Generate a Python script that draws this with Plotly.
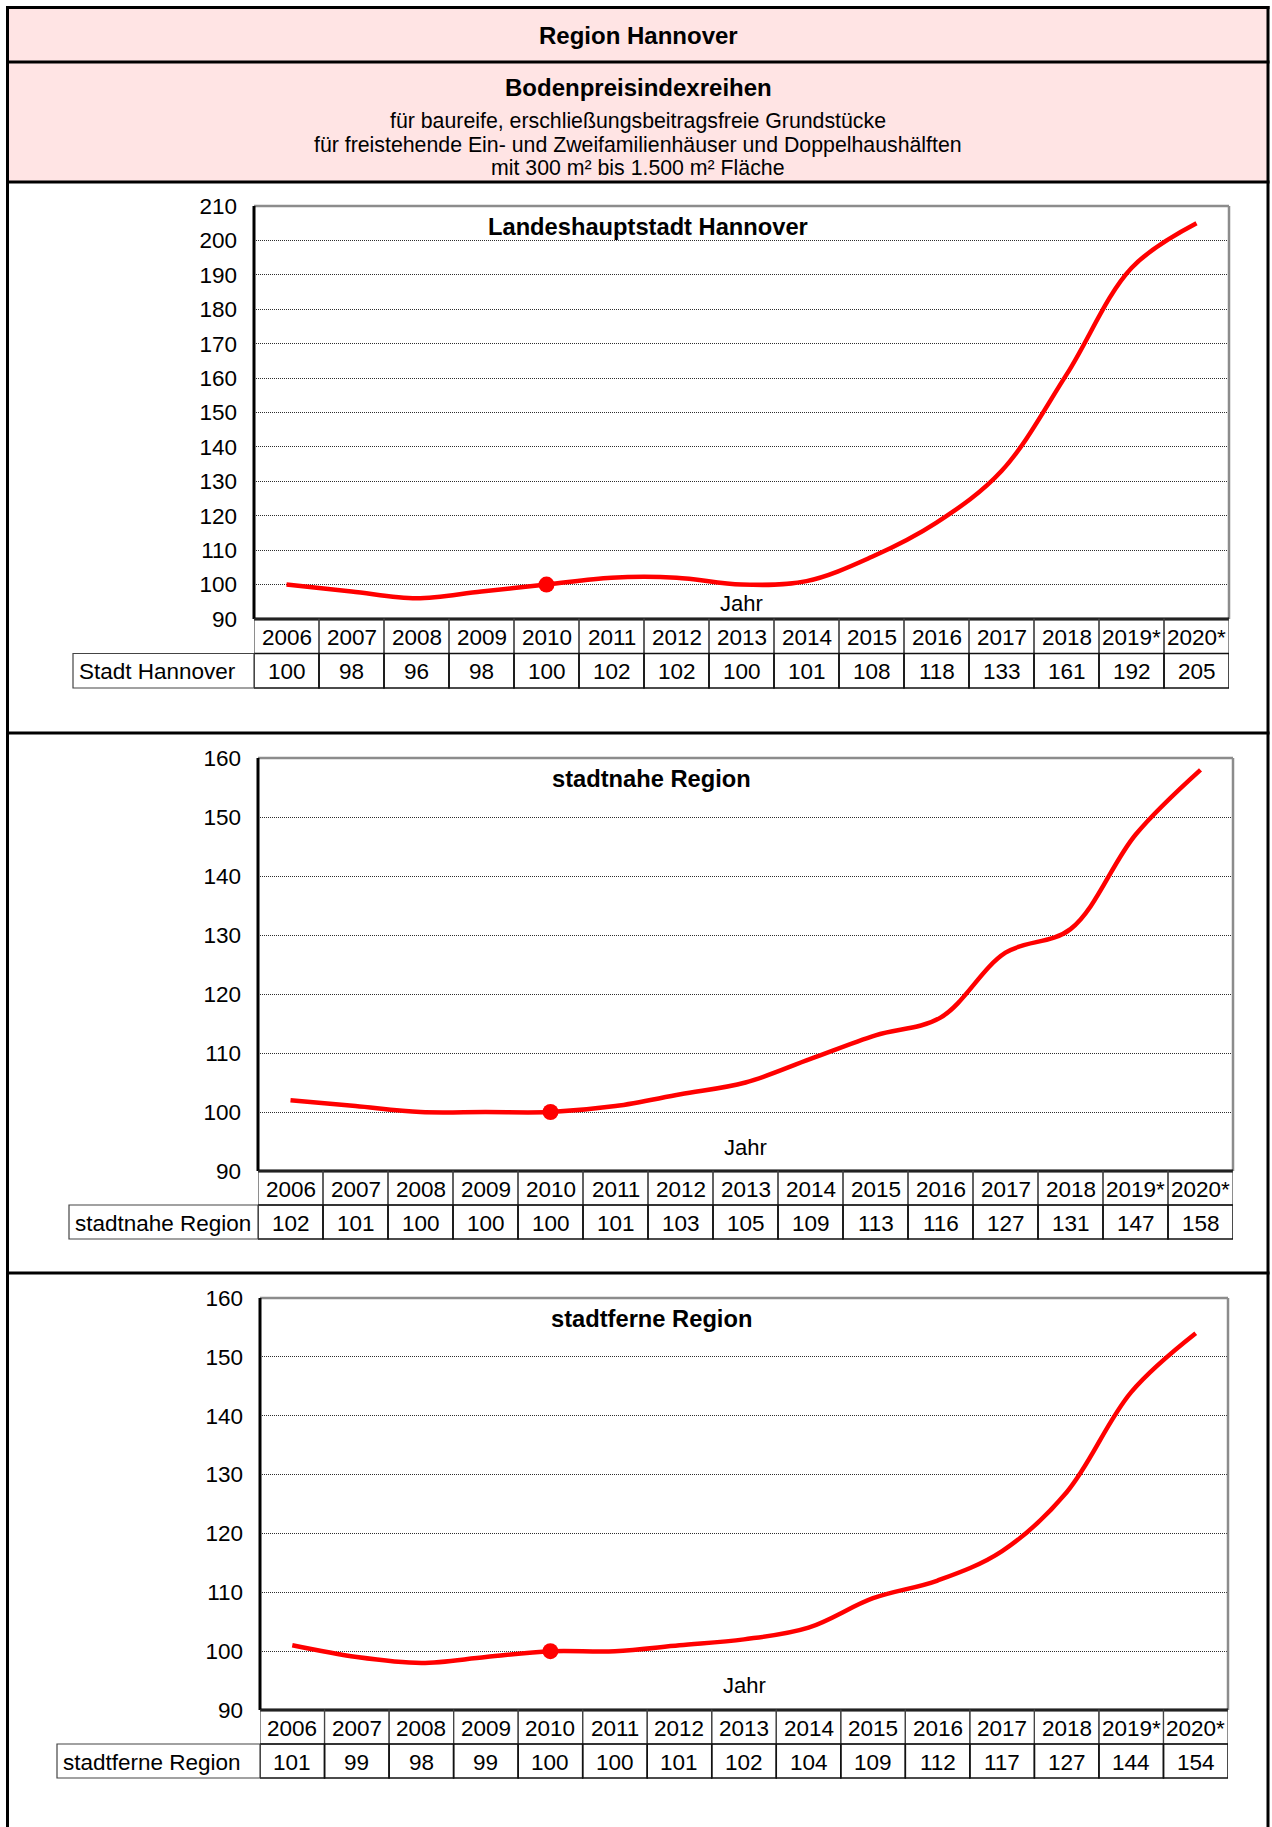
import plotly.graph_objects as go

# ---------------- data ----------------
years = ["2006", "2007", "2008", "2009", "2010", "2011", "2012", "2013",
         "2014", "2015", "2016", "2017", "2018", "2019*", "2020*"]
stadt_hannover = [100, 98, 96, 98, 100, 102, 102, 100, 101, 108, 118, 133, 161, 192, 205]
stadtnahe_region = [102, 101, 100, 100, 100, 101, 103, 105, 109, 113, 116, 127, 131, 147, 158]
stadtferne_region = [101, 99, 98, 99, 100, 100, 101, 102, 104, 109, 112, 117, 127, 144, 154]
row_labels = ["Stadt Hannover", "stadtnahe Region", "stadtferne Region"]
panel_titles = ["Landeshauptstadt Hannover", "stadtnahe Region", "stadtferne Region"]
y_ranges = [(90, 210), (90, 160), (90, 160)]
base_year = "2010"
axis_title = "Jahr"
axis_title_year = "2013"
header_title = "Region Hannover"
header_subtitle = "Bodenpreisindexreihen"
header_lines = ["für baureife, erschließungsbeitragsfreie Grundstücke",
                "für freistehende Ein- und Zweifamilienhäuser und Doppelhaushälften",
                "mit 300 m² bis 1.500 m² Fläche"]
series = [stadt_hannover, stadtnahe_region, stadtferne_region]

# ---------------- layout helpers ----------------
W, H = 1272, 1827
FONT = "Liberation Sans, Arial, sans-serif"
RED = "#FF0000"
PINK = "#FFE4E4"


def fx(p):
    return p / W


def fy(p):
    return 1 - p / H


panels = [
    dict(x0=254, x1=1229, y0=206, y1=619, row2=688, label_left=73, jahr_off=15),
    dict(x0=258, x1=1233, y0=758, y1=1171, row2=1239, label_left=69, jahr_off=24),
    dict(x0=260, x1=1228, y0=1298, y1=1710, row2=1778, label_left=57, jahr_off=25),
]

fig = go.Figure()
shapes = []
annotations = []

# header background + frame
shapes.append(dict(type="rect", xref="paper", yref="paper", x0=fx(7), x1=fx(1268),
                   y0=fy(7), y1=fy(182), fillcolor=PINK, line=dict(width=0), layer="below"))
for yy in [62, 182, 733, 1273]:
    shapes.append(dict(type="line", xref="paper", yref="paper", x0=fx(6), x1=fx(1269.5),
                       y0=fy(yy), y1=fy(yy), line=dict(color="black", width=3)))
shapes.append(dict(type="line", xref="paper", yref="paper", x0=fx(7.5), x1=fx(7.5),
                   y0=fy(6), y1=fy(1840), line=dict(color="black", width=3)))
shapes.append(dict(type="line", xref="paper", yref="paper", x0=fx(1268), x1=fx(1268),
                   y0=fy(6), y1=fy(1840), line=dict(color="black", width=3)))
shapes.append(dict(type="line", xref="paper", yref="paper", x0=fx(6), x1=fx(1269.5),
                   y0=fy(7.5), y1=fy(7.5), line=dict(color="black", width=3)))

annotations.append(dict(text="<b>" + header_title + "</b>", xref="paper", yref="paper",
                        x=fx(638), y=fy(36), showarrow=False, xanchor="center", yanchor="middle",
                        font=dict(family=FONT, size=24, color="black")))
annotations.append(dict(text="<b>" + header_subtitle + "</b>", xref="paper", yref="paper",
                        x=fx(638), y=fy(87), showarrow=False, xanchor="center", yanchor="middle",
                        font=dict(family=FONT, size=24, color="black")))
for txt, yy in zip(header_lines, [121, 145, 168]):
    annotations.append(dict(text=txt, xref="paper", yref="paper", x=fx(638), y=fy(yy),
                            showarrow=False, xanchor="center", yanchor="middle",
                            font=dict(family=FONT, size=21.3, color="black")))

layout_axes = {}
for i, (p, vals, lab, title, yr) in enumerate(zip(panels, series, row_labels, panel_titles, y_ranges)):
    n = "" if i == 0 else str(i + 1)
    xa, ya = "x" + n, "y" + n
    layout_axes["xaxis" + n] = dict(domain=[fx(p["x0"]), fx(p["x1"])], anchor=ya, type="category",
                                    range=[-0.5, len(years) - 0.5], showticklabels=False,
                                    showgrid=False, zeroline=False, showline=False, ticks="",
                                    automargin=False, fixedrange=True)
    layout_axes["yaxis" + n] = dict(domain=[fy(p["y1"]), fy(p["y0"])], anchor=xa, range=list(yr),
                                    tick0=yr[0], dtick=10, showgrid=True, gridcolor="#2E2E2E",
                                    griddash="1px,1px", gridwidth=1, zeroline=False, showline=False,
                                    ticks="", ticklabelstandoff=16, automargin=False,
                                    tickfont=dict(family=FONT, size=22.5, color="black"),
                                    fixedrange=True)

    fig.add_trace(go.Scatter(x=years, y=vals, mode="lines", xaxis=xa, yaxis=ya,
                             line=dict(color=RED, width=4.5, shape="spline", smoothing=1),
                             hoverinfo="skip", showlegend=False))
    bi = years.index(base_year)
    fig.add_trace(go.Scatter(x=[years[bi]], y=[vals[bi]], mode="markers", xaxis=xa, yaxis=ya,
                             marker=dict(color=RED, size=16), hoverinfo="skip", showlegend=False))

    # plot-area frame
    dref_x, dref_y = xa + " domain", ya + " domain"
    shapes.append(dict(type="line", xref=dref_x, yref=dref_y, x0=0, x1=1, y0=1, y1=1,
                       line=dict(color="#8C8C8C", width=2.5)))
    shapes.append(dict(type="line", xref=dref_x, yref=dref_y, x0=1, x1=1, y0=0, y1=1,
                       line=dict(color="#8C8C8C", width=2.5)))
    shapes.append(dict(type="line", xref=dref_x, yref=dref_y, x0=0, x1=0, y0=0, y1=1,
                       line=dict(color="black", width=3)))
    shapes.append(dict(type="line", xref=dref_x, yref=dref_y, x0=0, x1=1, y0=0, y1=0,
                       line=dict(color="black", width=3)))

    # panel title and axis title
    annotations.append(dict(text="<b>" + title + "</b>", xref=dref_x, yref="paper", x=0.404,
                            y=fy(p["y0"] + 21), showarrow=False, xanchor="center", yanchor="middle",
                            font=dict(family=FONT, size=23.7, color="black")))
    annotations.append(dict(text=axis_title, xref=xa, yref="paper", x=years.index(axis_title_year),
                            y=fy(p["y1"] - p["jahr_off"]), showarrow=False, xanchor="center",
                            yanchor="middle", font=dict(family=FONT, size=22, color="black")))

    # data table
    r0, r2 = p["y1"], p["row2"]
    r1 = (r0 + r2) / 2
    for j, (yrs, v) in enumerate(zip(years, vals)):
        shapes.append(dict(type="rect", xref=xa, yref="paper", x0=j - 0.5, x1=j + 0.5,
                           y0=fy(r1), y1=fy(r0), line=dict(color="#444444", width=1.2)))
        shapes.append(dict(type="rect", xref=xa, yref="paper", x0=j - 0.5, x1=j + 0.5,
                           y0=fy(r2), y1=fy(r1), line=dict(color="#111111", width=1.5)))
        annotations.append(dict(text=yrs, xref=xa, yref="paper", x=j, y=fy((r0 + r1) / 2 + 1),
                                showarrow=False, xanchor="center", yanchor="middle",
                                font=dict(family=FONT, size=22.5, color="black")))
        annotations.append(dict(text=str(v), xref=xa, yref="paper", x=j, y=fy((r1 + r2) / 2 + 1),
                                showarrow=False, xanchor="center", yanchor="middle",
                                font=dict(family=FONT, size=22.5, color="black")))
    shapes.append(dict(type="rect", xref="paper", yref="paper", x0=fx(p["label_left"]),
                       x1=fx(p["x0"]), y0=fy(r2), y1=fy(r1),
                       line=dict(color="#444444", width=1.2)))
    annotations.append(dict(text=lab, xref="paper", yref="paper", x=fx(p["label_left"] + 4),
                            y=fy((r1 + r2) / 2 + 1), showarrow=False, xanchor="left",
                            yanchor="middle", font=dict(family=FONT, size=22.5, color="black")))

fig.update_layout(template="none", width=W, height=H, autosize=False,
                  margin=dict(l=0, r=0, t=0, b=0, pad=0, autoexpand=False),
                  paper_bgcolor="white", plot_bgcolor="white", showlegend=False,
                  shapes=shapes, annotations=annotations, **layout_axes)

post = ("var d=document.getElementById('{plot_id}');"
        "d.style.position='absolute';d.style.left='0px';d.style.top='0px';"
        "document.body.style.margin='0';document.body.style.overflow='hidden';"
        "document.documentElement.style.overflow='hidden';")

fig.write_html("out.html", include_plotlyjs=True, full_html=True,
               config={"displayModeBar": False, "staticPlot": True},
               post_script=post)
